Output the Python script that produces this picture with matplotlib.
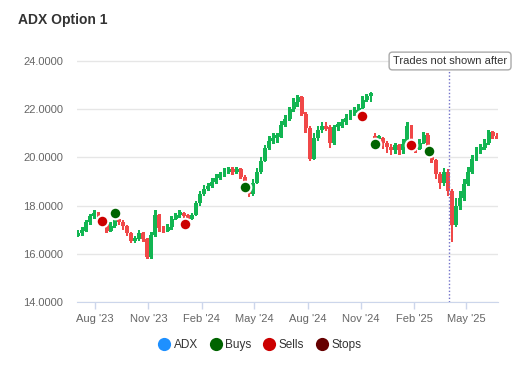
import numpy as np
import matplotlib
matplotlib.use("Agg")
import matplotlib.pyplot as plt
import matplotlib.dates as mdates
from matplotlib.lines import Line2D
import datetime as dt

plt.rcParams['font.family'] = ['Liberation Sans', 'DejaVu Sans']

# ---- data ----
first_week = "2023-07-03"
closes = [16.85, 16.95, 17.3, 17.55, 17.7, 17.45, 17.25, 16.95, 17.15, 17.45,
          17.3, 17.15, 16.85, 16.55, 16.6, 16.85, 16.6, 15.85, 16.8, 17.6,
          17.05, 16.95, 17.1, 17.45, 17.6, 17.7, 17.6, 17.45, 17.6, 18.1,
          18.5, 18.7, 18.8, 19.0, 19.15, 19.3, 19.4, 19.5, 19.4, 19.5,
          19.2, 18.9, 18.5, 18.95, 19.4, 19.85, 20.4, 20.7, 20.8, 20.85,
          21.35, 21.6, 22.0, 22.3, 22.5, 21.8, 21.2, 19.95, 20.8, 21.15,
          21.3, 21.25, 20.6, 21.25, 21.3, 21.45, 21.65, 21.85, 21.95, 22.05,
          22.4, 22.55, 22.6, 20.75, 20.8, 20.6, 20.45, 20.3, 20.5, 20.3,
          20.55, 21.3, 20.55, 20.35, 20.6, 20.95, 20.3, 19.9, 19.3, 18.95,
          19.4, 18.6, 17.2, 18.0, 18.3, 18.9, 19.4, 19.95, 20.3, 20.4,
          20.6, 21.05, 20.9, 20.85]
lows = [16.7, 16.75, 16.9, 17.2, 17.45, 17.35, 17.1, 16.85, 16.9, 17.05,
        17.2, 17.0, 16.75, 16.45, 16.45, 16.55, 16.5, 15.8, 15.8, 16.7,
        16.9, 16.85, 16.9, 17.0, 17.4, 17.5, 17.45, 17.35, 17.4, 17.55,
        18.0, 18.4, 18.6, 18.75, 18.9, 19.05, 19.2, 19.3, 19.25, 19.3,
        19.1, 18.75, 18.35, 18.4, 18.9, 19.3, 19.8, 20.3, 20.55, 20.6,
        20.8, 21.25, 21.5, 21.9, 22.1, 21.7, 21.0, 19.85, 19.9, 20.7,
        21.0, 21.1, 20.4, 20.5, 21.1, 21.2, 21.35, 21.55, 21.7, 21.8,
        22.0, 22.3, 22.3, 20.55, 20.6, 20.35, 20.2, 20.1, 20.15, 20.1,
        20.15, 20.5, 20.4, 20.2, 20.3, 20.55, 20.2, 19.75, 19.1, 18.7,
        18.8, 18.4, 16.5, 17.1, 17.8, 18.2, 18.8, 19.3, 19.85, 20.15,
        20.3, 20.5, 20.75, 20.75]
highs = [17.0, 17.1, 17.4, 17.65, 17.8, 17.75, 17.5, 17.3, 17.3, 17.55,
         17.55, 17.4, 17.2, 16.9, 16.75, 17.0, 16.9, 16.65, 16.9, 17.8,
         17.65, 17.15, 17.25, 17.55, 17.7, 17.8, 17.75, 17.65, 17.7, 18.2,
         18.6, 18.85, 18.95, 19.15, 19.3, 19.4, 19.55, 19.6, 19.6, 19.6,
         19.55, 19.25, 18.95, 19.1, 19.55, 20.0, 20.5, 20.9, 21.0, 21.0,
         21.5, 21.75, 22.1, 22.45, 22.6, 22.55, 21.9, 21.3, 21.0, 21.3,
         21.45, 21.45, 21.35, 21.35, 21.45, 21.6, 21.8, 21.95, 22.1, 22.2,
         22.55, 22.65, 22.7, 21.0, 20.95, 20.85, 20.7, 20.55, 20.6, 20.55,
         20.75, 21.45, 21.35, 20.6, 20.75, 21.05, 21.0, 20.35, 19.95, 19.4,
         19.55, 19.5, 18.7, 18.3, 18.6, 19.1, 19.6, 20.1, 20.45, 20.55,
         20.75, 21.15, 21.1, 21.0]
first_open = 16.75
gap_week = 73
gap_open = 20.9

buy_dates = ["2023-09-04", "2024-04-16", "2024-11-26", "2025-02-27"]
buy_prices = [17.69, 18.77, 20.56, 20.27]
sell_dates = ["2023-08-13", "2024-01-03", "2024-11-02", "2025-01-27"]
sell_prices = [17.36, 17.24, 21.72, 20.51]

cutoff_date = "2025-04-02"
xtick_dates = ["2023-08-01", "2023-11-01", "2024-02-01", "2024-05-01",
               "2024-08-01", "2024-11-01", "2025-02-01", "2025-05-01"]
xtick_labels = ["Aug '23", "Nov '23", "Feb '24", "May '24",
                "Aug '24", "Nov '24", "Feb '25", "May '25"]
yticks = [14, 16, 18, 20, 22, 24]

# ---- build ----
closes = np.array(closes)
lows = np.array(lows)
highs = np.array(highs)
opens = np.r_[first_open, closes[:-1]]
opens[gap_week] = gap_open
start = np.datetime64(first_week)
dates = np.array([start + np.timedelta64(7 * i, 'D') for i in range(len(closes))])
dnum = mdates.date2num(dates.astype('datetime64[D]').astype(dt.datetime))

green = '#12b552'
red = '#f04848'
colors = [green if c >= o else red for o, c in zip(opens, closes)]
heights = closes - opens
heights = np.where(np.abs(heights) < 0.12, np.sign(heights + 1e-9) * 0.12, heights)

fig = plt.figure(figsize=(5.3, 3.8), dpi=100)
ax = fig.add_axes([77/530, 1-302/380, (498-77)/530, (302-50)/380])

ax.bar(dnum, highs - lows, bottom=lows, width=4.5, color=colors, edgecolor='none', zorder=3)
ax.bar(dnum, heights, bottom=opens, width=6.8, color=colors, edgecolor='none', zorder=3)

def tonum(lst):
    return mdates.date2num([dt.datetime.fromisoformat(s) for s in lst])

ax.scatter(tonum(buy_dates), buy_prices, s=70, color='#006400', edgecolors='white',
           linewidths=1.5, zorder=5)
ax.scatter(tonum(sell_dates), sell_prices, s=70, color='#cc0000', edgecolors='white',
           linewidths=1.5, zorder=5)

ax.set_xlim(mdates.date2num(dt.datetime(2023, 7, 1)), mdates.date2num(dt.datetime(2025, 6, 25)))
ax.set_ylim(14, 14 + (302-50)/24.1)

ax.axvline(tonum([cutoff_date])[0], ymin=0, ymax=(302-70)/(302-50), color='#7070c8',
           linestyle=(0, (1, 1.5)), linewidth=1, zorder=4)

ax.set_yticks(yticks)
ax.set_yticklabels([f"{v:.4f}" for v in yticks])
ax.set_xticks(tonum(xtick_dates))
ax.set_xticklabels(xtick_labels)
ax.grid(axis='y', color='#e6e6e6', linewidth=1, zorder=0)
ax.set_axisbelow(True)
for s in ['top', 'right', 'left']:
    ax.spines[s].set_visible(False)
ax.spines['bottom'].set_color('#ccd6eb')
ax.tick_params(axis='y', length=0, pad=10, labelsize=8, labelcolor='#666666')
ax.tick_params(axis='x', length=5, width=1, color='#ccd6eb', pad=4, labelsize=8,
               labelcolor='#666666')

fig.text(18/530, 1-20/380, "ADX Option 1", fontsize=10, fontweight='bold',
         color='#333333', va='center', ha='left')

fig.text(393/530, 1-61/380, "Trades not shown after", fontsize=8, color='#333333',
         va='center', ha='left',
         bbox=dict(boxstyle='round,pad=0.35,rounding_size=0.3', fc='white', ec='#aaaaaa', lw=1))

handles = [Line2D([], [], marker='o', linestyle='none', markersize=9.5, color=c, markeredgewidth=0)
           for c in ['#1e90ff', '#006400', '#cc0000', '#660000']]
fig.legend(handles, ['ADX', 'Buys', 'Sells', 'Stops'], loc='center',
           bbox_to_anchor=(260/530, 1-345/380), ncol=4, frameon=False,
           handlelength=0.9, handletextpad=0.35, columnspacing=1.05,
           prop={'size': 8.5}, labelcolor='#333333')

fig.savefig("out.png", dpi=100)
